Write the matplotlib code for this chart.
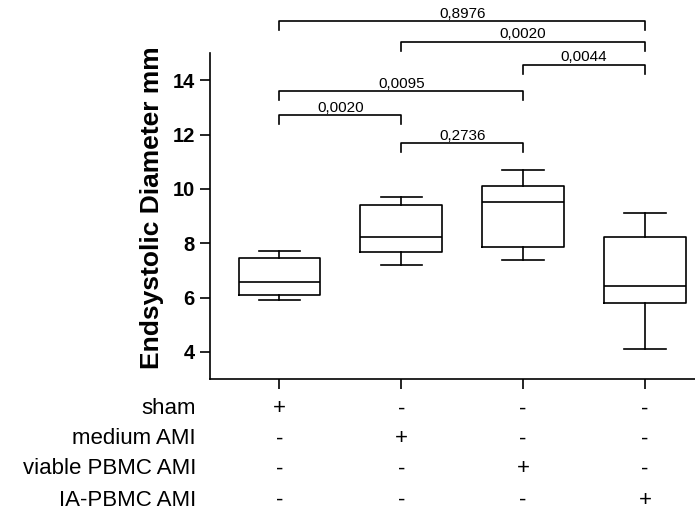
import matplotlib

matplotlib.use("Agg")
import matplotlib.pyplot as plt

plt.rcParams["font.family"] = ["Liberation Sans", "DejaVu Sans"]

# box statistics per group
groups = ["sham", "medium AMI", "viable PBMC AMI", "IA-PBMC AMI"]
whislo = [5.91, 7.21, 7.39, 4.12]
q1 = [6.08, 7.69, 7.86, 5.79]
med = [6.56, 8.21, 9.52, 6.44]
q3 = [7.44, 9.41, 10.12, 8.21]
whishi = [7.70, 9.69, 10.70, 9.11]

# pairwise comparisons: (group a, group b, bracket level, p-value label)
pairs = [(1, 2, 12.70, "0,0020"), (2, 3, 11.68, "0,2736"), (1, 3, 13.59, "0,0095"),
         (3, 4, 14.56, "0,0044"), (2, 4, 15.42, "0,0020"), (1, 4, 16.17, "0,8976")]

# treatment table under the axis
signs = [["+", "-", "-", "-"],
         ["-", "+", "-", "-"],
         ["-", "-", "+", "-"],
         ["-", "-", "-", "+"]]

fig = plt.figure(figsize=(6.95, 5.13), dpi=100)
ax = fig.add_axes([210 / 695, 1 - 379 / 513, 1 - 210 / 695, (379 - 53) / 513])

stats = [dict(whislo=a, q1=b, med=c, q3=d, whishi=e, fliers=[])
         for a, b, c, d, e in zip(whislo, q1, med, q3, whishi)]
pos = [1, 2, 3, 4]
lw = 1.2
ax.bxp(stats, positions=pos, widths=0.67, showfliers=False,
       boxprops=dict(color="black", lw=lw), medianprops=dict(color="black", lw=lw),
       whiskerprops=dict(color="black", lw=lw), capprops=dict(color="black", lw=lw),
       capwidths=0.34)

ax.set_xlim(0.43, 4.41)
ax.set_ylim(3, 15)
ax.set_yticks([4, 6, 8, 10, 12, 14])
ax.set_xticks(pos)
ax.set_xticklabels([])
for s in ("top", "right"):
    ax.spines[s].set_visible(False)
for s in ("left", "bottom"):
    ax.spines[s].set_linewidth(1.2)
ax.tick_params(axis="both", width=1.2, length=7, labelsize=14.5, pad=4)
for t in ax.get_yticklabels():
    t.set_fontweight("bold")
ax.set_ylabel("Endsystolic Diameter mm", fontsize=19, fontweight="bold")
ax.yaxis.set_label_coords(-0.095, 0.527)

dy = 0.33
for a, b, y, lab in pairs:
    ax.plot([a, a, b, b], [y - dy, y, y, y - dy], color="black", lw=1.2, clip_on=False)
    ax.text((a + b) / 2, y + 0.02, lab, ha="center", va="bottom", fontsize=11)

# treatment table
row_y = [409, 439, 469, 500]
for r, (name, ry) in enumerate(zip(groups, row_y)):
    yf = 1 - ry / 513
    fig.text(196 / 695, yf, name, ha="right", va="center", fontsize=16)
    for c, x in enumerate(pos):
        xf = ax.transData.transform((x, 0))[0] / fig.bbox.width
        fig.text(xf, yf, signs[r][c], ha="center", va="center", fontsize=16)

fig.savefig("out.png", dpi=100)
